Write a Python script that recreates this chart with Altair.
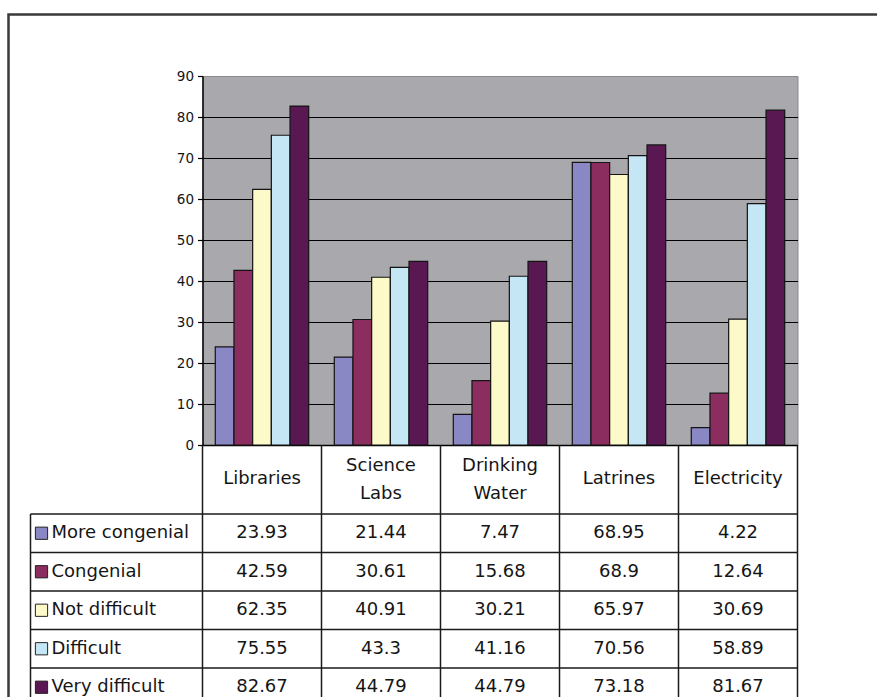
import altair as alt
import pandas as pd

# ---- data -------------------------------------------------------------
categories = ["Libraries", "Science Labs", "Drinking Water", "Latrines", "Electricity"]
series = ["More congenial", "Congenial", "Not difficult", "Difficult", "Very difficult"]

more_congenial = [23.93, 21.44, 7.47, 68.95, 4.22]
congenial = [42.59, 30.61, 15.68, 68.9, 12.64]
not_difficult = [62.35, 40.91, 30.21, 65.97, 30.69]
difficult = [75.55, 43.3, 41.16, 70.56, 58.89]
very_difficult = [82.67, 44.79, 44.79, 73.18, 81.67]

y_ticks = [0, 10, 20, 30, 40, 50, 60, 70, 80, 90]
colors = ["#8A87C5", "#8C2D5F", "#FCFAC8", "#C5E6F4", "#5A1853"]

values_by_series = [more_congenial, congenial, not_difficult, difficult, very_difficult]

rows = []
for s_idx, (name, vals) in enumerate(zip(series, values_by_series)):
    for c_idx, (cat, v) in enumerate(zip(categories, vals)):
        rows.append({
            "category": cat,
            "series": name,
            "value": v,
            "label": str(v),
            "col_mid": c_idx + 0.5,
            "row_mid": s_idx + 0.5,
        })
df = pd.DataFrame(rows)
row_names = pd.DataFrame({"series": series, "row_mid": [i + 0.5 for i in range(len(series))]})
row_edges = pd.DataFrame({"edge": list(range(len(series) + 1))})
col_edges = pd.DataFrame({"edge": list(range(len(categories) + 1))})
one = pd.DataFrame({"k": [0]})

# ---- layout (pixels, relative to the plot area) -----------------------
W, H = 595, 369
PAD = {"left": 202.5, "top": 76, "right": 877 - 202.5 - W, "bottom": 697 - 76 - H}
TABLE_TOP = 438          # bottom edge of the header row
ROW_H = 38.5
TABLE_BOTTOM = TABLE_TOP + ROW_H * len(series)
LEGEND_LEFT = -172       # left edge of the series-name column
FONT = "DejaVu Sans"
TXT = "#151515"
LINE = "#1a1a1a"

table_x = alt.Scale(domain=[0, len(categories)], range=[0, W])
table_y = alt.Scale(domain=[0, len(series)], range=[TABLE_TOP, TABLE_BOTTOM])
color_scale = alt.Scale(domain=series, range=colors)

# outer chart border
frame = alt.Chart(one).mark_rect(fillOpacity=0, stroke="#3a3a3a", strokeWidth=2.5).encode(
    x=alt.value(-194), x2=alt.value(W + 200),
    y=alt.value(-61.5), y2=alt.value(H + 400),
)

# grouped bars; the category axis doubles as the table's header row
bars = alt.Chart(df).mark_bar(stroke="#141414", strokeWidth=1.2).encode(
    x=alt.X(
        "category:N", sort=categories,
        scale=alt.Scale(paddingInner=0.215, paddingOuter=0.1075),
        axis=alt.Axis(
            title=None, orient="bottom", ticks=False, tickSize=0, labelAngle=0,
            domainColor="black", domainWidth=1.5,
            labelFont=FONT, labelFontSize=18, labelColor=TXT,
            labelBaseline="middle",
            labelPadding={"condition": {"test": "indexof(datum.label, ' ') >= 0", "value": 20}, "value": 33},
            labelLineHeight=28,
            labelOverlap=False, labelExpr="split(datum.label, ' ')",
        ),
    ),
    xOffset=alt.XOffset("series:N", sort=series, scale=alt.Scale(paddingInner=0, paddingOuter=0)),
    y=alt.Y(
        "value:Q", scale=alt.Scale(domain=[0, 90], nice=False),
        axis=alt.Axis(
            title=None, values=y_ticks, grid=True,
            gridColor={"condition": {"test": "datum.value >= 90", "value": "#8a8a8a"}, "value": "black"},
            gridWidth=1.2, tickColor="black", tickSize=5, tickWidth=1.2,
            domainColor="black", domainWidth=1.5,
            labelFont=FONT, labelFontSize=13.5, labelColor=TXT, labelPadding=4,
        ),
    ),
    color=alt.Color("series:N", sort=series, scale=color_scale, legend=None),
)

# data table grid
h_lines = alt.Chart(row_edges).mark_rule(color=LINE, strokeWidth=1.5).encode(
    y=alt.Y("edge:Q", scale=table_y, axis=None),
    x=alt.value(LEGEND_LEFT), x2=alt.value(W),
)
v_lines = alt.Chart(col_edges).mark_rule(color=LINE, strokeWidth=1.5).encode(
    x=alt.X("edge:Q", scale=table_x, axis=None),
    y=alt.value(H), y2=alt.value(TABLE_BOTTOM),
)
legend_edge = alt.Chart(one).mark_rule(color=LINE, strokeWidth=1.5).encode(
    x=alt.value(LEGEND_LEFT), y=alt.value(TABLE_TOP), y2=alt.value(TABLE_BOTTOM),
)

# series keys and names in the first column
keys = alt.Chart(row_names).mark_square(size=150, opacity=1, stroke="#222", strokeWidth=1).encode(
    x=alt.value(LEGEND_LEFT + 11),
    y=alt.Y("row_mid:Q", scale=table_y, axis=None),
    color=alt.Color("series:N", sort=series, scale=color_scale, legend=None),
)
names = alt.Chart(row_names).mark_text(align="left", baseline="middle", font=FONT, fontSize=18, color=TXT).encode(
    x=alt.value(LEGEND_LEFT + 21),
    y=alt.Y("row_mid:Q", scale=table_y, axis=None),
    text="series:N",
)

# values in the table cells
cells = alt.Chart(df).mark_text(align="center", baseline="middle", font=FONT, fontSize=18, color=TXT).encode(
    x=alt.X("col_mid:Q", scale=table_x, axis=None),
    y=alt.Y("row_mid:Q", scale=table_y, axis=None),
    text="label:N",
)

chart = alt.layer(
    frame, bars, h_lines, v_lines, legend_edge, keys, names, cells
).resolve_scale(
    x="independent", y="independent"
).properties(
    width=W, height=H, padding=PAD,
    autosize=alt.AutoSizeParams(type="none"),
    background="white",
).configure_view(
    fill="#A9A9AD", stroke="#8a8a8a", strokeWidth=1,
)

chart.save("out.html", embed_options={"renderer": "svg", "actions": False})
